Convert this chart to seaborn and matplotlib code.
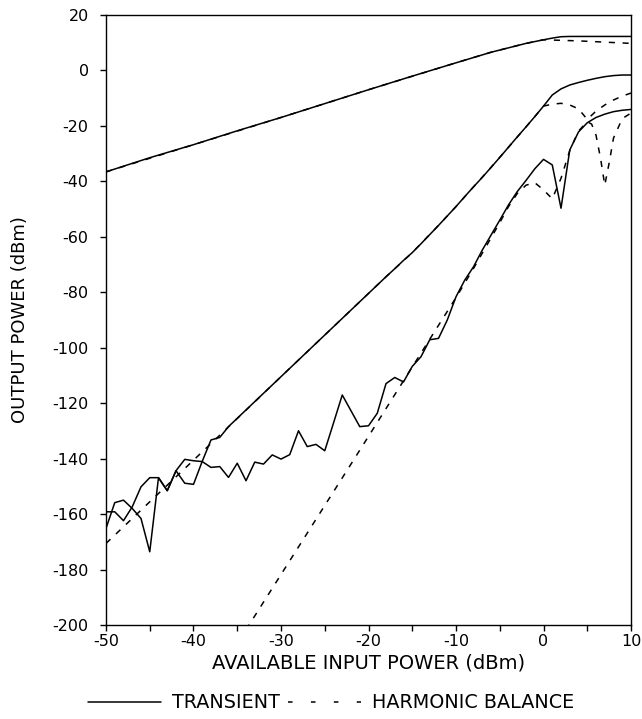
import matplotlib

matplotlib.use("Agg")

import matplotlib.pyplot as plt
import numpy as np
import seaborn as sns
from matplotlib.lines import Line2D
from matplotlib.ticker import MultipleLocator

# transient simulation, one point per dBm of input power
x_transient = np.arange(-50, 11)

fund_x = [-50, -45, -40, -35, -30, -25, -20, -15, -10, -8, -6, -4, -2, 0, 1, 2, 3, 4, 6, 8, 10]
fund_transient = [-36.7, -31.6, -26.9, -21.9, -17.1, -12.1, -7.1, -2.2, 2.6, 4.5, 6.4, 8.0, 9.6,
                  10.9, 11.5, 12.0, 12.1, 12.1, 12.1, 12.1, 12.1]

third_transient = [-159.2, -159.2, -162.4, -157.4, -150.2, -146.9, -146.9, -151.6, -144.4, -148.9,
                   -149.3, -141.0, -133.3, -132.4, -128.5, -125.5, -122.5, -119.5, -116.5, -113.5,
                   -110.5, -107.5, -104.5, -101.5, -98.5, -95.5, -92.5, -89.5, -86.5, -83.5,
                   -80.5, -77.5, -74.5, -71.6, -68.6, -65.8, -62.6, -59.3, -56.0, -52.6,
                   -49.2, -45.6, -42.1, -38.7, -35.1, -31.5, -27.8, -24.1, -20.5, -16.8,
                   -13.0, -9.0, -6.8, -5.4, -4.5, -3.7, -3.0, -2.4, -2.0, -1.8, -1.8]

fifth_transient = [-165.2, -155.9, -155.0, -158.0, -161.6, -173.6, -146.9, -151.6, -144.4, -140.3,
                   -140.8, -141.1, -143.2, -142.9, -146.8, -141.7, -148.0, -141.3, -142.0, -138.7,
                   -140.2, -138.6, -130.0, -135.7, -134.9, -137.2, -127.2, -117.1, -122.8, -128.5,
                   -128.2, -123.7, -113.0, -110.8, -112.4, -106.8, -103.3, -97.2, -96.7, -90.1,
                   -81.7, -75.7, -70.9, -64.9, -59.5, -54.1, -48.6, -43.8, -39.8, -35.6,
                   -32.2, -34.2, -49.8, -28.8, -22.3, -19.0, -17.1, -15.9, -15.0, -14.5, -14.2]

# harmonic balance
fund_hb_x = [-50, -40, -30, -20, -10, -8, -6, -4, -2, 0, 1, 2, 4, 6, 8, 10]
fund_hb = [-36.7, -26.9, -17.1, -7.1, 2.6, 4.5, 6.4, 8.0, 9.6, 10.9, 10.8, 10.7, 10.5, 10.2, 9.9, 9.6]

third_hb_x = [-50, -37, -30, -25, -20, -18, -15, -12, -10, -8, -6, -4, -2, -1, 0, 1, 2, 3, 4, 5,
              6, 7, 8, 9, 10]
third_hb = [-170.6, -131.6, -110.5, -95.5, -80.5, -74.5, -65.8, -56.0, -49.2, -42.1, -35.1, -27.8,
            -20.5, -16.8, -13.0, -12.3, -12.0, -12.6, -14.0, -17.8, -14.8, -12.6, -10.8, -9.4, -8.3]

fifth_hb_x = [-34, -22, -12, -10, -8, -6, -5, -4, -3, -2, -1, 0, 1, 2, 3, 4, 5, 5.5, 6, 6.5, 7,
              7.5, 8, 9, 10]
fifth_hb = [-201.7, -142.0, -92.0, -82.0, -71.5, -60.5, -55.0, -49.2, -44.5, -41.5, -40.6, -43.2,
            -46.4, -39.0, -29.0, -22.0, -18.6, -19.5, -23.5, -31.5, -41.5, -33.5, -24.5, -17.5, -15.5]

x_ticks = [-50, -40, -30, -20, -10, 0, 10]
y_ticks = list(range(-200, 21, 20))

sns.set_theme(style="ticks")
plt.rcParams["font.family"] = ["DejaVu Sans"]
plt.rcParams["axes.unicode_minus"] = False
for key in ["text.color", "axes.labelcolor", "xtick.color", "ytick.color", "axes.edgecolor"]:
    plt.rcParams[key] = "black"

DASH = (0, (4, 5))
LW = 1.1

fig = plt.figure(figsize=(6.42, 7.19), dpi=100)
ax = fig.add_axes([0.1651, 0.1307, 0.8178, 0.8491])

for xs, ys in [(fund_hb_x, fund_hb), (third_hb_x, third_hb), (fifth_hb_x, fifth_hb)]:
    sns.lineplot(x=xs, y=ys, ax=ax, color="black", linewidth=LW, linestyle=DASH,
                 estimator=None, sort=False)
for xs, ys in [(fund_x, fund_transient), (x_transient, third_transient),
               (x_transient, fifth_transient)]:
    sns.lineplot(x=xs, y=ys, ax=ax, color="black", linewidth=LW, estimator=None, sort=False)

ax.set_xlim(-50, 10)
ax.set_ylim(-200, 20)
ax.set_xticks(x_ticks)
ax.xaxis.set_minor_locator(MultipleLocator(5))
ax.set_yticks(y_ticks)
ax.tick_params(axis="both", which="both", direction="out", length=4.5, width=1.0,
               colors="black", labelsize=11.5)
ax.tick_params(axis="x", which="both", pad=2)
ax.tick_params(axis="y", pad=8)
for spine in ax.spines.values():
    spine.set_visible(True)
    spine.set_color("black")
    spine.set_linewidth(1.0)

ax.set_xlabel("AVAILABLE INPUT POWER (dBm)", fontsize=14)
ax.set_ylabel("OUTPUT POWER (dBm)", fontsize=13)
ax.xaxis.set_label_coords(0.5, -0.047)
ax.yaxis.set_label_coords(-0.147, 0.5)

handles = [
    Line2D([], [], color="black", linewidth=LW),
    Line2D([], [], color="black", linewidth=LW, linestyle=(0, (3, 12))),
]
fig.legend(handles, ["TRANSIENT", "HARMONIC BALANCE"], loc="center",
           bbox_to_anchor=(331 / 642, 1 - 703 / 719), ncol=2, frameon=False,
           fontsize=13.8, handlelength=3.8, handletextpad=0.55, columnspacing=0.45,
           borderpad=0.0)

fig.savefig("out.png", dpi=100)
plt.close(fig)
